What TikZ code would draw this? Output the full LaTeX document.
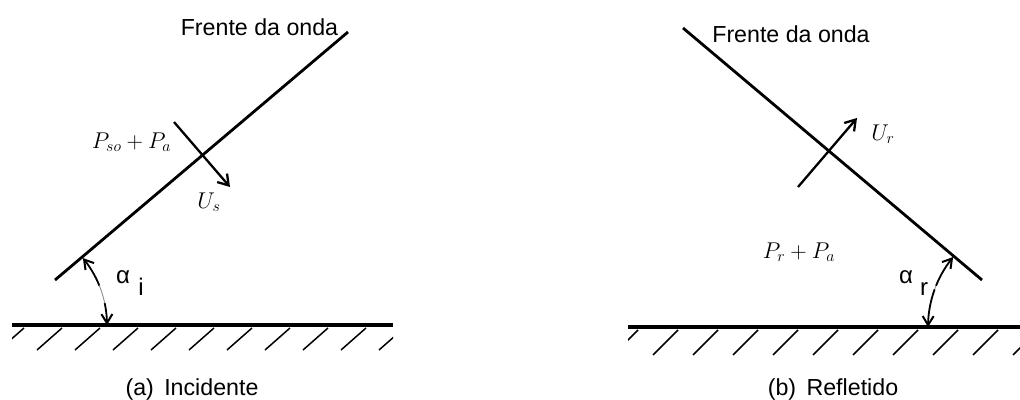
\documentclass[tikz,border=0pt]{standalone}
\usepackage{fontspec}
\setmainfont{Liberation Sans}
\usetikzlibrary{arrows.meta}
\begin{document}
\begin{tikzpicture}[x=1pt,y=-1pt,
  front/.style={line width=2.8pt},
  ground/.style={line width=3.2pt},
  hatch/.style={line width=1.5pt},
  vel/.style={line width=2.3pt,-{Straight Barb[length=10pt,width=13pt,line width=2.3pt]}},
  angtip/.style={line width=1.8pt,-{Straight Barb[length=9pt,width=11pt,line width=2pt]}},
  angmid/.style={line width=0.9pt,black!45},
  txt/.style={inner sep=0pt,anchor=base,font=\fontsize{23.2}{28}\selectfont},
  mth/.style={inner sep=0pt,anchor=base,scale=1.1,font=\fontsize{20.74}{25}\selectfont},
  greek/.style={inner sep=0pt,anchor=base,font=\fontsize{24}{28}\selectfont}]
\useasboundingbox (0,0) rectangle (1020,399);

% ---------- (a) Incidente ----------
\coordinate (fa1) at (55,280);
\coordinate (fa2) at (348,32);
\draw[front] (fa1) -- (fa2);
\coordinate (ga1) at (12,325);
\coordinate (ga2) at (393,325);
\draw[ground] (ga1) -- (ga2);
\begin{scope}
  \clip (12,327) rectangle (393,360);
  \foreach \k in {-1,...,9}
    \draw[hatch] ({37+38*\k},350) -- ({62+38*\k},328);
\end{scope}
% angle alpha_i
\draw[angtip] plot[domain=22:39.6,samples=20] ({2+105*cos(\x)},{325-105*sin(\x)});
\draw[angmid] plot[domain=12:22,samples=10] ({2+105*cos(\x)},{325-105*sin(\x)});
\draw[angtip] plot[domain=12:0,samples=12] ({2+105*cos(\x)},{325-105*sin(\x)});
\node[greek] (alA) at (123,283) {α};
\node[greek] (iA) at (141,295) {i};
% velocity
\coordinate (usS) at (174,122);
\coordinate (usE) at (230,187);
\draw[vel] (usS) -- (usE);
\node[mth] (us) at (209,208) {$U_s$};
\node[mth] (pa) at (131.5,148) {$P_{so}+P_a$};
\node[txt] (frA) at (259.5,35) {Frente da onda};
\node[txt] (capA) at (192,395) {(a)\hspace{0.45em}Incidente};

% ---------- (b) Refletido ----------
\coordinate (fb1) at (683,28);
\coordinate (fb2) at (982,280);
\draw[front] (fb1) -- (fb2);
\coordinate (gb1) at (628,327);
\coordinate (gb2) at (1020,327);
\draw[ground] (gb1) -- (gb2);
\begin{scope}
  \clip (628,329) rectangle (1020,365);
  \foreach \k in {-1,...,9}
    \draw[hatch] ({653+40*\k},355) -- ({678+40*\k},330);
\end{scope}
% angle alpha_r
\draw[angtip] plot[domain=158:140.5,samples=20] ({1038+110*cos(\x)},{327-110*sin(\x)});
\draw[angmid] plot[domain=158:168,samples=10] ({1038+110*cos(\x)},{327-110*sin(\x)});
\draw[angtip] plot[domain=160:180,samples=14] ({1038+110*cos(\x)},{327-110*sin(\x)});
\node[greek] (alB) at (906,283) {α};
\node[greek] (rB) at (924,295) {r};
% velocity
\coordinate (urS) at (798,187);
\coordinate (urE) at (857,118);
\draw[vel] (urS) -- (urE);
\node[mth] (ur) at (883,140) {$U_r$};
\node[mth] (pb) at (799,258) {$P_r+P_a$};
\node[txt] (frB) at (791,42) {Frente da onda};
\node[txt] (capB) at (833,395) {(b)\hspace{0.45em}Refletido};
\end{tikzpicture}
\end{document}
